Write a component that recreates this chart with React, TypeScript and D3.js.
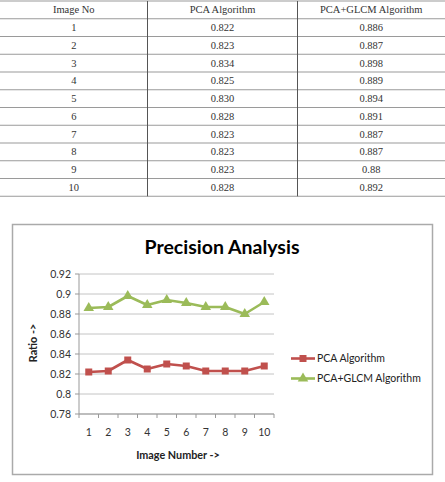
import React from "react";
import * as d3 from "d3";

const imageNos = ["1", "2", "3", "4", "5", "6", "7", "8", "9", "10"];
const pcaValues = [0.822, 0.823, 0.834, 0.825, 0.83, 0.828, 0.823, 0.823, 0.823, 0.828];
const glcmValues = [0.886, 0.887, 0.898, 0.889, 0.894, 0.891, 0.887, 0.887, 0.88, 0.892];
const pcaLabels = ["0.822", "0.823", "0.834", "0.825", "0.830", "0.828", "0.823", "0.823", "0.823", "0.828"];
const glcmLabels = ["0.886", "0.887", "0.898", "0.889", "0.894", "0.891", "0.887", "0.887", "0.88", "0.892"];
const tableHeaders = ["Image No", "PCA Algorithm", "PCA+GLCM Algorithm"];
const yTicks = [0.78, 0.8, 0.82, 0.84, 0.86, 0.88, 0.9, 0.92];
const seriesNames = ["PCA Algorithm", "PCA+GLCM Algorithm"];

const RED = "#C0504D";
const GREEN = "#9BBB59";
const CHART_FONT = "Lato, 'Open Sans', sans-serif";

export default function App() {
  // Table geometry
  const colEdges = [0, 147.5, 297.5, 445];
  const rowTop = 1;
  const rowH = 17.75;
  const nRows = 11;
  const rows = imageNos.map((n, i) => [n, pcaLabels[i], glcmLabels[i]]);

  // Chart geometry
  const plotL = 79, plotR = 274, plotT = 274, plotB = 414;
  const x = d3.scaleBand<string>().domain(imageNos).range([plotL, plotR]);
  const y = d3.scaleLinear().domain([0.78, 0.92]).range([plotB, plotT]);
  const cx = (d: string) => (x(d) as number) + x.bandwidth() / 2;

  const line = d3
    .line<number>()
    .x((_, i) => cx(imageNos[i]))
    .y((v) => y(v));

  const tri = d3.symbol().type(d3.symbolTriangle).size(48)();
  const sq = (s: number) => `M${-s / 2},${-s / 2}h${s}v${s}h${-s}Z`;

  const tickXs = imageNos.map((d) => x(d) as number).concat([plotR]);

  return (
    <svg
      width={445}
      height={482}
      style={{ position: "absolute", left: 0, top: 0, background: "#fff" }}
    >
      {/* Table */}
      <g fontFamily="'Liberation Serif', 'Times New Roman', serif" fontSize={10.5} fill="#333">
        {d3.range(nRows + 1).map((i) => (
          <line
            key={"h" + i}
            x1={0}
            x2={445}
            y1={rowTop + i * rowH}
            y2={rowTop + i * rowH}
            stroke="#9a9a9a"
            strokeWidth={1.2}
          />
        ))}
        {[1, 2].map((c) => (
          <line
            key={"v" + c}
            x1={colEdges[c]}
            x2={colEdges[c]}
            y1={rowTop}
            y2={rowTop + nRows * rowH}
            stroke="#555"
            strokeWidth={1}
          />
        ))}
        {tableHeaders.map((h, c) => (
          <text
            key={"th" + c}
            x={(colEdges[c] + colEdges[c + 1]) / 2}
            y={rowTop + rowH / 2 + 3.6}
            textAnchor="middle"
          >
            {h}
          </text>
        ))}
        {rows.map((r, i) =>
          r.map((v, c) => (
            <text
              key={`td${i}-${c}`}
              x={(colEdges[c] + colEdges[c + 1]) / 2}
              y={rowTop + (i + 1) * rowH + rowH / 2 + 3.6}
              textAnchor="middle"
            >
              {v}
            </text>
          ))
        )}
      </g>

      {/* Chart frame */}
      <rect x={12.5} y={224.5} width={420} height={250} fill="#fff" stroke="#aaa" strokeWidth={1.5} />

      <text
        x={222}
        y={253.5}
        textAnchor="middle"
        fontFamily={CHART_FONT}
        fontWeight="bold"
        fontSize={19.5}
        fill="#000"
      >
        Precision Analysis
      </text>

      {/* Grid lines */}
      {yTicks.map((t) => (
        <line key={"g" + t} x1={plotL} x2={plotR} y1={y(t)} y2={y(t)} stroke="#c4c4c4" strokeWidth={1} />
      ))}
      {/* Y axis */}
      <line x1={plotL} x2={plotL} y1={plotT} y2={plotB} stroke="#999" />
      {yTicks.map((t) => (
        <g key={"yt" + t}>
          <line x1={plotL - 4} x2={plotL} y1={y(t)} y2={y(t)} stroke="#999" />
          <text
            x={plotL - 8}
            y={y(t) + 3.7}
            textAnchor="end"
            fontFamily={CHART_FONT}
            fontSize={10.5}
            fill="#333"
          >
            {d3.format("")(t)}
          </text>
        </g>
      ))}
      {/* X axis */}
      <line x1={plotL} x2={plotR} y1={plotB} y2={plotB} stroke="#999" />
      {tickXs.map((tx, i) => (
        <line key={"xt" + i} x1={tx} x2={tx} y1={plotB} y2={plotB + 4} stroke="#999" />
      ))}
      {imageNos.map((d) => (
        <text
          key={"xl" + d}
          x={cx(d)}
          y={plotB + 21.8}
          textAnchor="middle"
          fontFamily={CHART_FONT}
          fontSize={10.5}
          fill="#333"
        >
          {d}
        </text>
      ))}

      <text
        x={178}
        y={458.5}
        textAnchor="middle"
        fontFamily={CHART_FONT}
        fontWeight="bold"
        fontSize={10.8}
        fill="#222"
      >
        Image Number -&gt;
      </text>
      <text
        transform={`translate(37,343) rotate(-90)`}
        textAnchor="middle"
        fontFamily={CHART_FONT}
        fontWeight="bold"
        fontSize={10.8}
        fill="#222"
      >
        Ratio -&gt;
      </text>

      {/* Series */}
      <path d={line(pcaValues) || ""} fill="none" stroke={RED} strokeWidth={2.6} strokeLinejoin="round" />
      {pcaValues.map((v, i) => (
        <path key={"pm" + i} d={sq(7)} transform={`translate(${cx(imageNos[i])},${y(v)})`} fill={RED} />
      ))}
      <path d={line(glcmValues) || ""} fill="none" stroke={GREEN} strokeWidth={2.6} strokeLinejoin="round" />
      {glcmValues.map((v, i) => (
        <path key={"gm" + i} d={tri || ""} transform={`translate(${cx(imageNos[i])},${y(v)})`} fill={GREEN} />
      ))}

      {/* Legend */}
      {seriesNames.map((name, i) => {
        const ly = 358.5 + i * 20;
        const col = i === 0 ? RED : GREEN;
        return (
          <g key={"lg" + i}>
            <line x1={291} x2={315} y1={ly} y2={ly} stroke={col} strokeWidth={2.6} />
            {i === 0 ? (
              <path d={sq(7)} transform={`translate(303,${ly})`} fill={col} />
            ) : (
              <path d={tri || ""} transform={`translate(303,${ly})`} fill={col} />
            )}
            <text x={317} y={ly + 3.8} fontFamily={CHART_FONT} fontSize={10.5} fill="#222">
              {name}
            </text>
          </g>
        );
      })}
    </svg>
  );
}
